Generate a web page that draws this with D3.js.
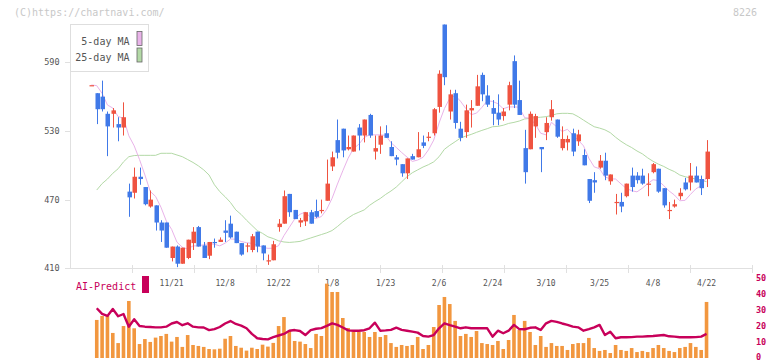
<!DOCTYPE html>
<html><head><meta charset="utf-8">
<script src="https://cdn.jsdelivr.net/npm/d3@7"></script>
<style>body{margin:0;background:#fff}svg{display:block}</style>
</head><body><svg id="c" width="772" height="361"></svg>
<script>
const openP=[570,563,560,545,545,536,533,477,476,490, 481,464,465,450,450,419,429,414,419,432, 446,430,421,433,433,443,449,442,432,429, 426,442,430,417,417,446,449,475,461,450, 451,459,460,460,469,499,522,532,514,512, 533,526,544,512,518,528,516,507,501,493, 508,507,520,524,528,551,623,547,563,532, 529,548,552,579,561,550,546,543,553,591, 557,515,514,534,516,529,542,540,515,520, 528,521,509,488,487,498,504,486,467,468, 473,491,491,491,483,494,497,480,461,464, 473,485,485,491,488,488];
const highP=[570,563,574,547,550,542,555,484,498,498, 481,478,465,452,450,429,430,428,435,446, 447,433,433,436,437,452,456,442,432,432, 440,442,430,422,434,453,478,475,461,454, 459,461,470,470,505,512,540,532,526,526, 536,540,545,526,534,535,521,509,501,506, 510,529,526,529,550,583,623,566,566,538, 553,557,579,581,570,557,562,550,573,596, 574,531,547,545,516,542,557,540,534,526, 532,531,514,488,494,509,511,492,475,476, 484,498,494,497,493,502,497,480,468,470, 480,489,502,499,491,522];
const lowP=[570,536,547,508,533,521,526,455,471,483, 465,463,443,433,428,416,411,414,418,426, 429,419,418,428,433,433,436,432,421,424, 424,424,417,413,417,442,449,455,453,446, 447,449,454,458,469,495,506,507,513,512, 513,520,524,505,510,524,508,500,490,488, 505,507,515,521,526,546,570,540,532,521, 524,533,552,556,551,535,535,539,548,550, 544,484,514,524,494,522,539,524,513,513, 508,517,500,467,476,497,487,483,457,459, 472,477,484,483,473,493,476,463,453,463, 470,478,478,485,474,481];
const closeP=[570,549,549,534,548,533,542,472,490,488, 466,470,450,443,428,429,414,428,435,442, 429,419,433,432,435,441,437,432,422,430, 438,429,423,417,431,449,473,459,453,452, 459,449,455,461,484,507,511,513,516,526, 526,540,526,515,526,524,508,505,493,506, 505,514,517,525,549,580,577,562,537,524, 548,550,569,562,553,545,540,547,570,553, 544,494,545,543,514,537,549,525,523,523, 512,527,500,469,485,504,491,492,468,464, 484,481,487,484,484,501,477,465,461,466, 476,479,491,485,480,512];
const ma5=[570.2,569.6,562.9,552.7,550.0,542.6,541.2,525.8,517.0,505.0, 491.6,477.2,472.8,463.4,451.4,444.0,432.8,428.4,426.8,429.6, 429.6,430.6,431.6,431.0,429.6,432.0,435.6,435.4,433.4,432.4, 431.8,430.2,428.4,427.4,427.6,429.8,438.6,445.8,453.0,457.2, 459.2,454.4,453.6,455.2,461.6,471.2,483.6,495.2,506.2,514.6, 518.4,524.2,526.8,526.6,526.6,526.2,519.8,515.6,511.2,507.2, 503.4,504.6,507.0,513.4,522.0,537.0,549.6,558.6,561.0,556.0, 549.6,544.2,545.6,550.6,556.4,555.8,553.8,549.4,551.0,551.0, 550.8,541.6,541.2,535.8,528.0,526.6,537.6,533.6,529.6,531.4, 526.4,522.0,517.0,506.2,498.6,497.0,489.8,488.2,488.0,483.8, 479.8,477.8,476.8,480.0,484.0,487.4,486.6,482.2,477.6,474.0, 469.0,469.4,474.6,479.4,482.2,489.4];
const ma25=[null,478.4,484,488,493,497,503,507.5,508.5,508.7, 508.7,508.7,508.7,510.5,510.5,510.5,509,507.5,505,502.5, 499.5,496,491.5,483,477,472.5,467.5,461,457,452, 447.5,443,440.5,437.5,436,434,433,432.6,433,433.5, 435,436.5,438,439.5,441,443,446.5,450.5,454,457, 459,461,465,468.2,471,474.5,477.5,481,485.5,490, 493.5,496,498.5,500.5,503,507.5,514,517.5,520.6,523.8, 525.5,527,528.8,530.5,532,533.7,534,535,536.6,537.5, 538.7,540.5,541,541.7,542,542.5,543.5,545,545.4,545.4, 545,542.5,539.5,536.5,533.7,532.5,531,528.5,524.5,521, 518,515.5,512.5,510,506.5,503.5,501,499,496.5,494.5, 491.5,490,489,488,487,485.7];
const volume=[0,23.7,26.2,26.2,15.6,9.3,19.9,35.5,18.5,8.7, 11.8,10.0,12.7,13.7,15.0,10.2,13.1,6.9,14.3,8.1, 7.5,6.9,5.6,5.4,5.8,12.0,13.7,7.5,6.4,4.6, 6.4,5.6,8.3,7.1,9.4,19.9,25.5,16.8,10.6,10.2, 8.7,6.2,15.0,13.7,46.3,41.1,41.1,24.9,18.7,16.2, 16.2,16.2,13.1,16.2,13.1,14.3,9.3,6.9,8.1,7.5, 8.1,13.1,5.6,8.1,19.3,33.0,38.0,33.6,23.1,13.7, 15.0,13.1,16.8,9.3,8.7,8.1,10.6,5.6,11.2,26.8, 17.4,23.1,16.2,8.1,13.7,6.9,9.3,7.5,7.5,5.0, 8.7,9.3,9.3,12.5,6.2,4.4,5.0,3.1,8.1,5.0, 4.4,6.2,3.7,4.4,3.7,6.2,8.1,6.2,4.4,3.7, 6.2,6.9,9.3,6.9,5.0,34.9];
const aiPredict=[null,31.0,27.5,26.2,30.5,26.0,27.4,19.5,24.1,19.9, 19.5,19.3,19.1,19.1,19.5,21.5,22.4,20.4,21.6,19.5, 19.1,19.0,17.4,18.0,19.3,21.5,23.0,21.2,20.2,18.5, 15.0,12.3,11.8,11.6,13.0,14.0,15.0,17.0,17.4,16.8, 14.3,17.4,18.2,18.6,20.0,21.6,20.6,19.0,17.2,17.0, 17.0,17.3,18.5,22.0,17.0,17.2,17.5,18.9,17.5,17.0, 16.4,15.8,13.7,13.3,14.3,18.5,21.6,20.5,19.5,18.5, 19.1,18.5,18.5,18.5,18.5,13.3,17.0,15.4,17.0,20.6, 18.0,17.9,18.8,19.1,17.4,21.6,23.1,22.5,21.5,20.6, 19.5,19.1,17.0,18.0,19.1,20.6,14.3,16.4,12.3,12.9, 12.9,13.0,13.3,13.3,13.5,13.7,14.0,14.3,13.5,13.3, 12.9,12.9,12.9,13.0,13.3,15.0];
const dateLabels=["11/21","12/8","12/22","1/8","1/23","2/6","2/24","3/10","3/25","4/8","4/22"];
const dateLabelIndex=[15,25,35,45,55,65,75,85,95,105,115];
const priceTicks=[410,470,530,590];
const volTicks=[0,10,20,30,40,50];
const legendNames=["5-day MA","25-day MA"];

const RED="#ef5340", BLUE="#4079e8", ORANGE="#f2973f", CRIM="#c8005a";
const PINK="#e9b3e9", GREEN="#b3d9a6", GRID="#e0e0e0", TXT="#555";
const MONO="'DejaVu Sans Mono', 'Liberation Mono', monospace";

const svg=d3.select("#c");
const x=d3.scaleLinear().domain([-4,123.5]).range([70,752]);
const y=d3.scaleLinear().domain([410,590]).range([268.3,62.3]);
const yv=d3.scaleLinear().domain([0,50]).range([358,277.7]);
const idx=d3.range(closeP.length);

// header texts
svg.append("text").attr("x",14).attr("y",15.5).attr("font-family",MONO).attr("font-size",10)
  .attr("fill","#c8c8c8").text("(C)https://chartnavi.com/");
svg.append("text").attr("x",757).attr("y",15.5).attr("text-anchor","end").attr("font-family",MONO)
  .attr("font-size",10).attr("fill","#c8c8c8").text("8226");

// axes lines
svg.append("line").attr("x1",70.5).attr("x2",70.5).attr("y1",24).attr("y2",269).attr("stroke",GRID);
svg.append("line").attr("x1",70).attr("x2",752).attr("y1",268.5).attr("y2",268.5).attr("stroke",GRID);
svg.append("g").selectAll("line").data(d3.range(1,12)).join("line")
  .attr("x1",k=>70.5+62*k).attr("x2",k=>70.5+62*k).attr("y1",265).attr("y2",273).attr("stroke",GRID);

// price axis
const pa=svg.append("g");
pa.selectAll("line").data(priceTicks).join("line")
  .attr("x1",65).attr("x2",70).attr("y1",d=>Math.round(y(d))+0.5).attr("y2",d=>Math.round(y(d))+0.5).attr("stroke",GRID);
pa.selectAll("text").data(priceTicks).join("text")
  .attr("x",59.5).attr("y",d=>y(d)).attr("dy","0.35em").attr("text-anchor","end")
  .attr("font-family",MONO).attr("font-size",8.5).attr("fill",TXT).text(d=>d);

// date labels
svg.append("g").selectAll("text").data(dateLabels).join("text")
  .attr("x",(d,i)=>x(dateLabelIndex[i])).attr("y",285.5).attr("text-anchor","middle")
  .attr("font-family",MONO).attr("font-size",8).attr("fill",TXT).text(d=>d);

// volume axis labels
svg.append("g").selectAll("text").data(volTicks).join("text")
  .attr("x",756).attr("y",d=>Math.min(yv(d)+3,360)).attr("dy",0)
  .attr("font-family",MONO).attr("font-size",8.5).attr("font-weight","bold").attr("fill",CRIM).text(d=>d);

// volume bars
svg.append("g").selectAll("rect").data(idx.filter(i=>volume[i]>0)).join("rect")
  .attr("x",i=>x(i)-1.8).attr("width",3.6)
  .attr("y",i=>yv(volume[i])).attr("height",i=>yv(0)-yv(volume[i])).attr("fill",ORANGE);

// AI predict line
svg.append("path").datum(idx).attr("fill","none").attr("stroke",CRIM).attr("stroke-width",2.4)
  .attr("stroke-linejoin","round")
  .attr("d",d3.line().defined(i=>aiPredict[i]!=null).x(i=>x(i)).y(i=>yv(aiPredict[i])));

// MA lines
svg.append("path").datum(idx).attr("fill","none").attr("stroke",GREEN).attr("stroke-width",1)
  .attr("d",d3.line().defined(i=>ma25[i]!=null).x(i=>x(i)).y(i=>y(ma25[i])));
svg.append("path").datum(idx).attr("fill","none").attr("stroke",PINK).attr("stroke-width",1)
  .attr("d",d3.line().defined(i=>ma5[i]!=null).x(i=>x(i)).y(i=>y(ma5[i])));

// candles
const cg=svg.append("g");
const col=i=>closeP[i]>=openP[i]?RED:BLUE;
cg.selectAll("line").data(idx).join("line")
  .attr("x1",i=>Math.round(x(i))+0.5).attr("x2",i=>Math.round(x(i))+0.5)
  .attr("y1",i=>y(highP[i])).attr("y2",i=>y(lowP[i])).attr("stroke",col).attr("stroke-width",1);
cg.selectAll("rect").data(idx).join("rect")
  .attr("x",i=>Math.round(x(i))-1.5).attr("width",4.5)
  .attr("y",i=>Math.min(y(openP[i]),y(closeP[i])))
  .attr("height",i=>Math.max(1.2,Math.abs(y(openP[i])-y(closeP[i]))))
  .attr("fill",col);

// legend
const lg=svg.append("g");
lg.append("rect").attr("x",70.5).attr("y",24.5).attr("width",78).attr("height",47)
  .attr("fill","#fff").attr("stroke","#dedede");
lg.selectAll("text").data(legendNames).join("text")
  .attr("x",129.5).attr("y",(d,i)=>44.5+i*16.5).attr("text-anchor","end")
  .attr("font-family",MONO).attr("font-size",10).attr("fill",TXT).text(d=>d);
lg.selectAll("rect.sw").data([PINK,GREEN]).join("rect").attr("class","sw")
  .attr("x",137).attr("y",(d,i)=>31.5+i*16.5).attr("width",5).attr("height",14)
  .attr("fill",d=>d).attr("stroke","#666").attr("stroke-width",0.8);

// AI predict legend
svg.append("text").attr("x",76).attr("y",289.5).attr("font-family",MONO).attr("font-size",10)
  .attr("fill",CRIM).text("AI-Predict");
svg.append("rect").attr("x",142).attr("y",276).attr("width",7).attr("height",17).attr("fill",CRIM);
</script>
</body></html>
